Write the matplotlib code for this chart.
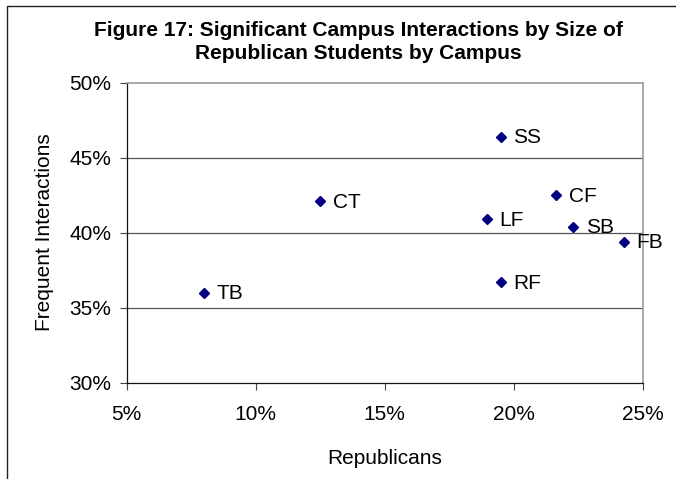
import matplotlib.pyplot as plt
from matplotlib.lines import Line2D
from matplotlib.ticker import FuncFormatter

# Campus data
campuses = ["SS", "CF", "LF", "SB", "FB", "CT", "TB", "RF"]
republicans = [19.5, 21.65, 18.95, 22.3, 24.25, 12.5, 8.0, 19.5]
interactions = [46.4, 42.5, 40.9, 40.4, 39.4, 42.1, 36.0, 36.7]

x_ticks = [5, 10, 15, 20, 25]
y_ticks = [30, 35, 40, 45, 50]

W, H = 676, 479
fig = plt.figure(figsize=(W / 100, H / 100), dpi=100)
plt.rcParams["font.family"] = ["Liberation Sans", "DejaVu Sans"]

ax = fig.add_axes([126.5 / W, 1 - 382.5 / H, (643 - 126.5) / W, (382.5 - 82.5) / H])

ax.plot(republicans, interactions, linestyle="none", marker="D", ms=5,
        color="#000080", zorder=3, clip_on=False)
for name, x, y in zip(campuses, republicans, interactions):
    ax.annotate(name, (x, y), xytext=(9, -1), textcoords="offset points",
                ha="left", va="center", fontsize=15, annotation_clip=False)

ax.set_xlim(5, 25)
ax.set_ylim(30, 50)
ax.set_xticks(x_ticks)
ax.set_yticks(y_ticks)
pct = FuncFormatter(lambda v, p: "%d%%" % v)
ax.xaxis.set_major_formatter(pct)
ax.yaxis.set_major_formatter(pct)
ax.tick_params(axis="both", direction="out", length=5, width=0.8,
               labelsize=15, color="#444")
ax.tick_params(axis="x", pad=11)
ax.tick_params(axis="y", pad=6)

# horizontal gridlines only
for y in y_ticks[1:-1]:
    ax.axhline(y, color="#555", lw=0.9, zorder=1)

for side in ["top", "right"]:
    ax.spines[side].set_color("#999")
    ax.spines[side].set_linewidth(1.2)
for side in ["left", "bottom"]:
    ax.spines[side].set_color("#111")
    ax.spines[side].set_linewidth(0.9)

ax.set_xlabel("Republicans", fontsize=15, labelpad=18)
ax.set_ylabel("Frequent Interactions", fontsize=15, labelpad=11)

fig.text(358 / W, 1 - 36 / H, "Figure 17: Significant Campus Interactions by Size of",
         ha="center", va="baseline", fontsize=15, fontweight="bold")
fig.text(358 / W, 1 - 59 / H, "Republican Students by Campus",
         ha="center", va="baseline", fontsize=15, fontweight="bold")

# outer chart border (cropped on the right and bottom)
fig.add_artist(Line2D([7 / W, 7 / W, 1], [0, 1 - 6 / H, 1 - 6 / H],
                      transform=fig.transFigure, color="#222", lw=1.0))

fig.savefig("out.png", dpi=100)
